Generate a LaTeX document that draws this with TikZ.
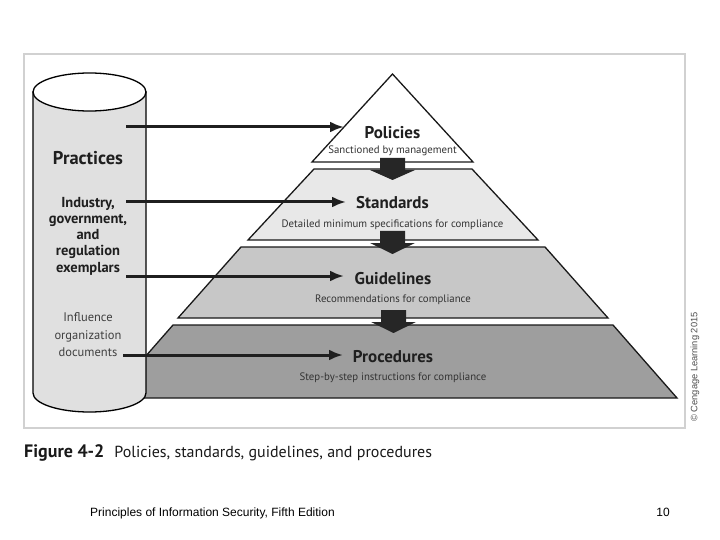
\documentclass[tikz,border=0pt]{standalone}
\usepackage{fontspec}
\setmainfont{PT Sans}
\newfontfamily\slidefont{Liberation Sans}
\usetikzlibrary{arrows.meta,positioning}

\begin{document}
\begin{tikzpicture}[
  x=1pt, y=-1pt,
  tier/.style={draw=black!90,line width=1.3pt},
  ttl/.style={anchor=base,font=\bfseries\fontsize{17}{19}\selectfont,text=black!88},
  sub/.style={anchor=base,font=\fontsize{10.8}{12}\selectfont,text=black!80},
  cyltxt/.style={align=center,text=black!88},
  feed/.style={draw=black!88,line width=3pt,-{Latex[length=14pt,width=11pt]}},
  drop/.style={fill=black!85}
]
  \useasboundingbox (0,0) rectangle (720,540);

  % frame
  \draw[black!18,line width=1.8pt] (24,54) rectangle (685,428);

  % tiers
  \draw[tier,fill=black!38] (173,325) -- (613,325) -- (677,398) -- (109,398) -- cycle;
  \draw[tier,fill=black!22] (241,247) -- (545,247) -- (608,318) -- (178,318) -- cycle;
  \draw[tier,fill=black!9] (314,169) -- (472,169) -- (538,240) -- (248,240) -- cycle;
  \draw[tier,fill=white] (392.5,74) -- (473,162) -- (312,162) -- cycle;

  % drops between tiers
  \fill[drop] (380,158) -- (405,158) -- (405,170) -- (415,170) -- (392.5,180) -- (370,170) -- (380,170) -- cycle;
  \fill[drop] (380,231) -- (405,231) -- (405,243) -- (415,243) -- (392.5,254) -- (370,243) -- (380,243) -- cycle;
  \fill[drop] (381,310) -- (406,310) -- (406,322) -- (416,322) -- (393.5,333) -- (371,322) -- (381,322) -- cycle;

  % cylinder
  \draw[line width=1.3pt,fill=black!12] (33,92) -- (33,393)
    arc[start angle=180,end angle=360,x radius=56.5pt,y radius=19pt] -- (146,92) -- cycle;
  \draw[line width=1.3pt,fill=white] (89.5,92) ellipse[x radius=56.5pt,y radius=19pt];

  % cylinder texts
  \node[cyltxt,anchor=base,font=\bfseries\fontsize{18.5}{20}\selectfont] (prac) at (88,165) {Practices};
  \node[cyltxt,font=\bfseries\fontsize{14.5}{16.2}\selectfont] (exem) at (88,236)
    {Industry,\\government,\\and\\regulation\\exemplars};
  \node[cyltxt,font=\fontsize{12.5}{17.5}\selectfont,text=black!75] (infl) at (88,335)
    {Influence\\organization\\documents};

  % tier texts
  \node[ttl] (pol) at (392.5,139) {Policies};
  \node[sub] (polsub) at (392.5,154) {Sanctioned by management};
  \node[ttl] (std) at (392.5,209) {Standards};
  \node[sub] (stdsub) at (392.5,227) {Detailed minimum specifications for compliance};
  \node[ttl] (gdl) at (393,284) {Guidelines};
  \node[sub] (gdlsub) at (393,302) {Recommendations for compliance};
  \node[ttl] (prc) at (393,362) {Procedures};
  \node[sub] (prcsub) at (393,380) {Step-by-step instructions for compliance};

  % feeds
  \coordinate (c1) at (126,127);
  \coordinate (c2) at (126,202);
  \coordinate (c3) at (126,276);
  \coordinate (c4) at (123,355);
  \coordinate (t1) at (344,127);
  \coordinate (t2) at (346,202);
  \coordinate (t3) at (344,276);
  \coordinate (t4) at (343,355);
  \draw[feed] (c1) -- (t1);
  \draw[feed] (c2) -- (t2);
  \draw[feed] (c3) -- (t3);
  \draw[feed] (c4) -- (t4);

  % credit, caption, footer
  \node[rotate=90,font=\slidefont\fontsize{9.3}{10}\selectfont,text=black!70] (credit) at (695,367)
    {\textcopyright\ Cengage Learning 2015};
  \node[anchor=base west,inner sep=0pt,font=\fontsize{16}{18}\selectfont,text=black!90] (cap) at (24,457)
    {{\bfseries\fontsize{18}{20}\selectfont Figure 4-2}\hspace{10pt}Policies, standards, guidelines, and procedures};
  \node[anchor=base west,inner sep=0pt,font=\slidefont\fontsize{12}{14}\selectfont] (foot) at (90,516)
    {Principles of Information Security, Fifth Edition};
  \node[anchor=base east,inner sep=0pt,font=\slidefont\fontsize{12}{14}\selectfont] (page) at (670,516) {10};
\end{tikzpicture}
\end{document}
